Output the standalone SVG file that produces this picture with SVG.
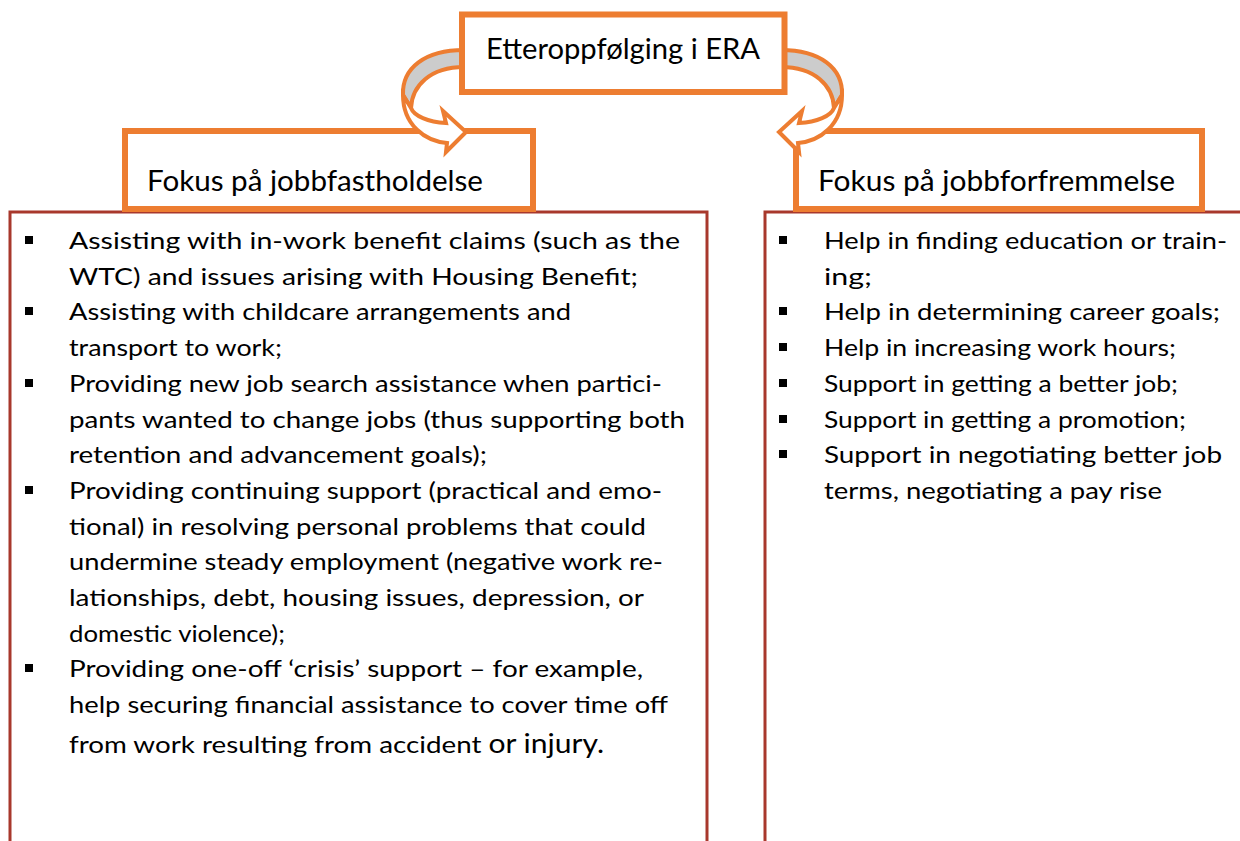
<svg xmlns="http://www.w3.org/2000/svg" width="1240" height="841" viewBox="0 0 1240 841">
<style>
.t{font-family:Lato,"Open Sans","Liberation Sans",sans-serif;font-size:24px;fill:#000}
.h{font-family:Lato,"Open Sans","Liberation Sans",sans-serif;font-size:28px;fill:#000}
.box{fill:none;stroke:#A8382C;stroke-width:3}
.hd{fill:#fff;stroke:#ED7D31;stroke-width:6}
.ar{stroke:#ED7D31;stroke-width:4;stroke-linejoin:miter}
.b{fill:#000}
</style>
<rect width="1240" height="841" fill="#fff"/>
<g id="left-content">
<path class="box" d="M10 845 V212 H707 V845"/>
<rect class="b" x="25" y="236" width="8" height="8"/>
<rect class="b" x="25" y="307" width="8" height="8"/>
<rect class="b" x="25" y="379" width="8" height="8"/>
<rect class="b" x="25" y="486" width="8" height="8"/>
<rect class="b" x="25" y="664" width="8" height="8"/>
<text class="t" x="69" y="249" textLength="611" lengthAdjust="spacingAndGlyphs">Assisting with in-work benefit claims (such as the</text>
<text class="t" x="69" y="285" textLength="569" lengthAdjust="spacingAndGlyphs">WTC) and issues arising with Housing Benefit;</text>
<text class="t" x="69" y="320" textLength="502" lengthAdjust="spacingAndGlyphs">Assisting with childcare arrangements and</text>
<text class="t" x="69" y="356" textLength="213" lengthAdjust="spacingAndGlyphs">transport to work;</text>
<text class="t" x="69" y="392" textLength="593" lengthAdjust="spacingAndGlyphs">Providing new job search assistance when partici-</text>
<text class="t" x="69" y="428" textLength="616" lengthAdjust="spacingAndGlyphs">pants wanted to change jobs (thus supporting  both</text>
<text class="t" x="69" y="463" textLength="418" lengthAdjust="spacingAndGlyphs">retention and advancement goals);</text>
<text class="t" x="69" y="499" textLength="593" lengthAdjust="spacingAndGlyphs">Providing continuing support (practical and emo-</text>
<text class="t" x="69" y="535" textLength="577" lengthAdjust="spacingAndGlyphs">tional) in resolving personal problems that could</text>
<text class="t" x="69" y="570" textLength="594" lengthAdjust="spacingAndGlyphs">undermine steady employment (negative work re-</text>
<text class="t" x="69" y="606" textLength="575" lengthAdjust="spacingAndGlyphs">lationships, debt, housing issues, depression, or</text>
<text class="t" x="69" y="642" textLength="216" lengthAdjust="spacingAndGlyphs">domestic violence);</text>
<text class="t" x="69" y="677" textLength="574" lengthAdjust="spacingAndGlyphs">Providing one-off ‘crisis’ support – for example,</text>
<text class="t" x="69" y="713" textLength="599" lengthAdjust="spacingAndGlyphs">help securing financial assistance to cover time off</text>
<text class="t" x="69" y="753" textLength="535" lengthAdjust="spacingAndGlyphs">from work resulting from accident <tspan font-size="26">or injury.</tspan></text>
</g>
<g id="right-content">
<path class="box" d="M765 845 V212 H1245"/>
<rect class="b" x="779" y="236" width="8" height="8"/>
<rect class="b" x="779" y="307" width="8" height="8"/>
<rect class="b" x="779" y="343" width="8" height="8"/>
<rect class="b" x="779" y="379" width="8" height="8"/>
<rect class="b" x="779" y="415" width="8" height="8"/>
<rect class="b" x="779" y="450" width="8" height="8"/>
<text class="t" x="824" y="249" textLength="403" lengthAdjust="spacingAndGlyphs">Help in finding education or train-</text>
<text class="t" x="824" y="285" textLength="48" lengthAdjust="spacingAndGlyphs">ing;</text>
<text class="t" x="824" y="320" textLength="396" lengthAdjust="spacingAndGlyphs">Help in determining career goals;</text>
<text class="t" x="824" y="356" textLength="352" lengthAdjust="spacingAndGlyphs">Help in increasing work hours;</text>
<text class="t" x="824" y="392" textLength="354" lengthAdjust="spacingAndGlyphs">Support in getting a better job;</text>
<text class="t" x="824" y="428" textLength="362" lengthAdjust="spacingAndGlyphs">Support in getting a promotion;</text>
<text class="t" x="824" y="463" textLength="398" lengthAdjust="spacingAndGlyphs">Support in  negotiating better job</text>
<text class="t" x="824" y="499" textLength="338" lengthAdjust="spacingAndGlyphs">terms, negotiating a pay rise</text>
</g>
<g id="header-left">
<rect class="hd" x="125" y="131" width="408" height="78"/>
<text class="h" x="147" y="191" textLength="336" lengthAdjust="spacingAndGlyphs">Fokus på jobbfastholdelse</text>
</g>
<g id="header-right">
<rect class="hd" x="796" y="131" width="406" height="78"/>
<text class="h" x="818" y="191" textLength="357" lengthAdjust="spacingAndGlyphs">Fokus på jobbforfremmelse</text>
</g>
<g id="connectors">
<g id="arrow-left">
<path class="ar" fill="#CCCCCC" d="M464 50 C425 50 402 68 403 95 L411 108 C412 86 430 67 464 67 Z"/>
<path class="ar" fill="#FFFFFF" d="M403 95 C403 125 425 141 447 143 L446 152 L466 132 L443 111 L446 123 C428 122 414 116 411 108 Z"/>
</g>
<g id="arrow-right" transform="translate(1245,0) scale(-1,1)">
<path class="ar" fill="#CCCCCC" d="M464 50 C425 50 402 68 403 95 L411 108 C412 86 430 67 464 67 Z"/>
<path class="ar" fill="#FFFFFF" d="M403 95 C403 125 425 141 447 143 L446 152 L466 132 L443 111 L446 123 C428 122 414 116 411 108 Z"/>
</g>
</g>
<g id="top">
<rect class="hd" x="462" y="14.5" width="322.5" height="77.5"/>
<text class="h" x="486" y="59" font-size="30" textLength="274" lengthAdjust="spacingAndGlyphs">Etteroppfølging i ERA</text>
</g>
</svg>
